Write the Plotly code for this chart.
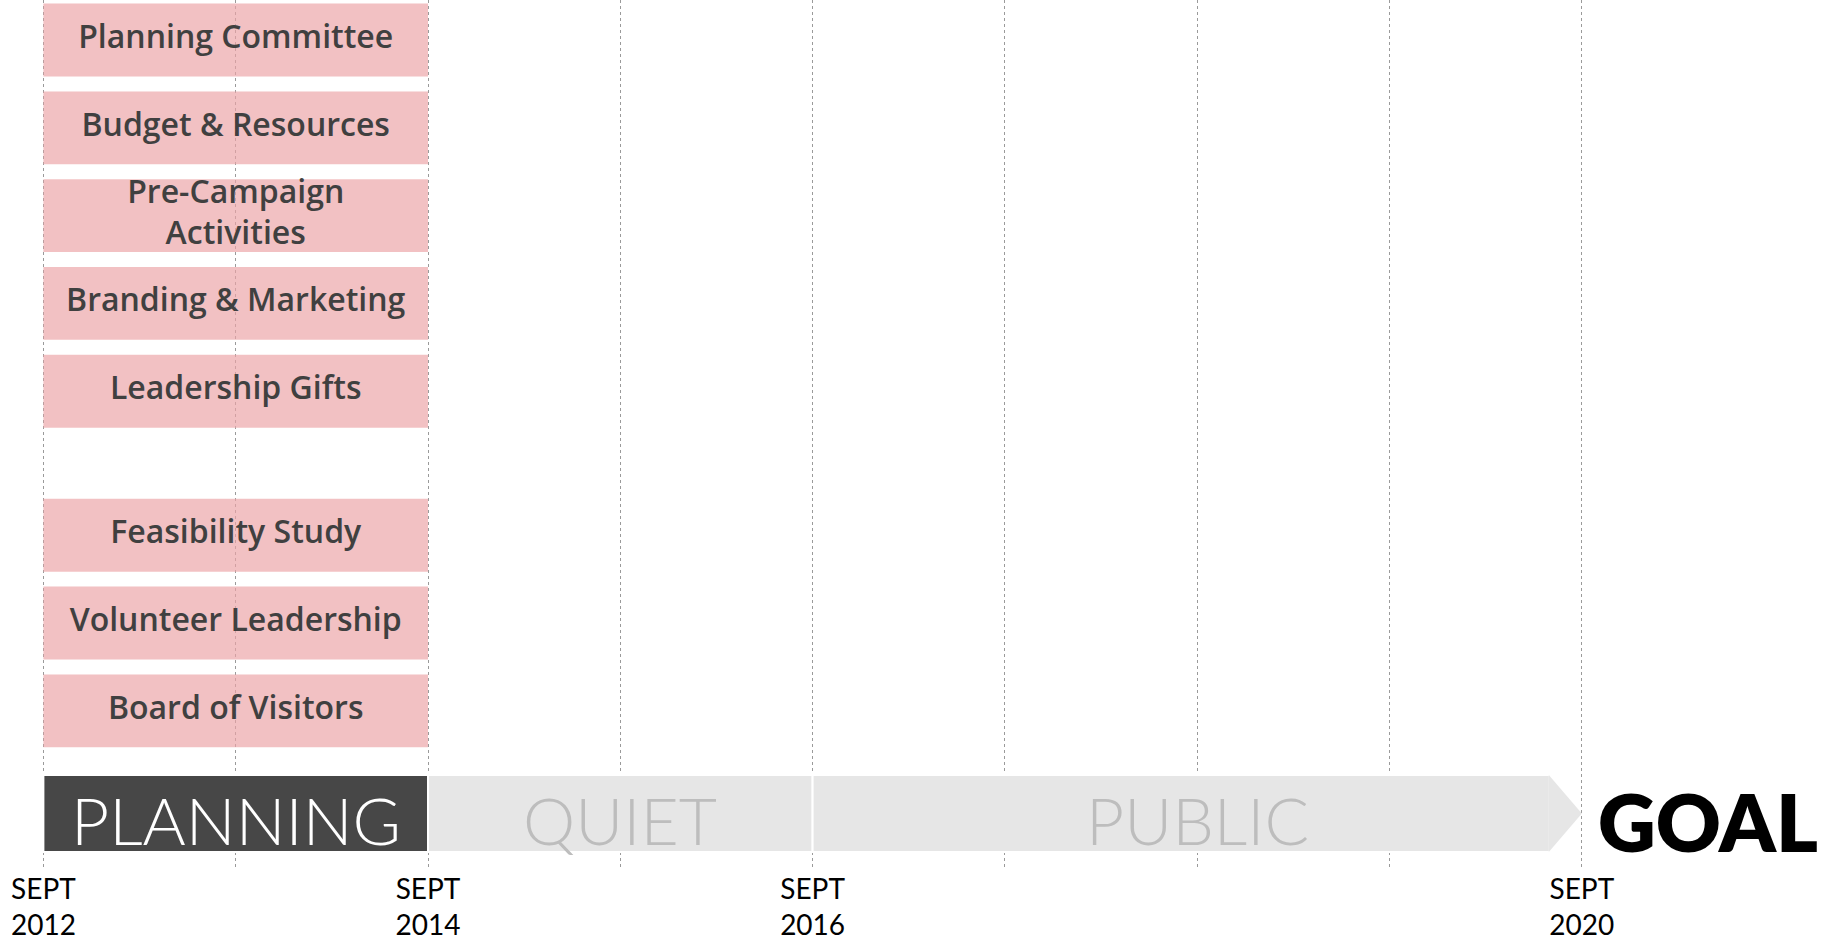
import plotly.graph_objects as go

# ---------------- data ----------------
task_labels = ["Planning Committee", "Budget & Resources", "Pre-Campaign<br>Activities",
               "Branding & Marketing", "Leadership Gifts", "Feasibility Study",
               "Volunteer Leadership", "Board of Visitors"]
task_rows = [0, 1, 2, 3, 4, 5.64, 6.64, 7.64]
task_start = ["2012-09"] * 8
task_end = ["2014-09"] * 8

phase_labels = ["PLANNING", "QUIET", "PUBLIC"]
phase_start = ["2012-09", "2014-09", "2016-09"]
phase_end = ["2014-09", "2016-09", "2020-09"]
phase_fill = ["#474747", "#e6e6e6", "#e6e6e6"]
phase_text_color = ["#ffffff", "#bdbdbd", "#bdbdbd"]
phase_row = 8.81

tick_dates = ["2012-09", "2013-09", "2014-09", "2015-09", "2016-09",
              "2017-09", "2018-09", "2019-09", "2020-09"]
tick_labels = ["SEPT<br>2012", "", "SEPT<br>2014", "", "SEPT<br>2016",
               "", "", "", "SEPT<br>2020"]
goal_label = "GOAL"


def to_year(s):
    y, m = s.split("-")
    return int(y) + (int(m) - 1) / 12.0


# ---------------- figure ----------------
fig = go.Figure()

ts = [to_year(s) for s in task_start]
te = [to_year(s) for s in task_end]
fig.add_trace(go.Bar(
    orientation="h", y=task_rows, base=ts, x=[b - a for a, b in zip(ts, te)],
    width=0.83, marker=dict(color="rgba(236,164,166,0.68)", line=dict(width=0)),
    hoverinfo="skip", showlegend=False))

fig.add_trace(go.Scatter(
    x=[(a + b) / 2 for a, b in zip(ts, te)], y=task_rows, mode="text",
    text=task_labels, textposition="middle center",
    textfont=dict(family="Open Sans", size=32, color="#404040", weight=600),
    hoverinfo="skip", showlegend=False))

# phase band
ps = [to_year(s) for s in phase_start]
pe = [to_year(s) for s in phase_end]
arrow_len = 2 / 12.0
band_w = 0.877
bar_end = [pe[0], pe[1], pe[2] - arrow_len]
fig.add_trace(go.Bar(
    orientation="h", y=[phase_row] * 3, base=ps, x=[b - a for a, b in zip(ps, bar_end)],
    width=band_w, marker=dict(color=phase_fill, line=dict(color="#ffffff", width=2)),
    hoverinfo="skip", showlegend=False))
# arrow head of the last phase
fig.add_trace(go.Scatter(
    x=[pe[2] - arrow_len - 0.005, pe[2], pe[2] - arrow_len - 0.005],
    y=[phase_row - band_w / 2, phase_row, phase_row + band_w / 2],
    mode="lines", fill="toself", fillcolor=phase_fill[2], line=dict(width=0),
    hoverinfo="skip", showlegend=False))

for lbl, a, b, col in zip(phase_labels, ps, pe, phase_text_color):
    fig.add_annotation(
        x=(a + b) / 2, y=phase_row, text=lbl, showarrow=False,
        xanchor="center", yanchor="middle", yshift=-6,
        font=dict(family="Lato", size=66, color=col, weight=300))

fig.add_annotation(
    x=pe[2], y=phase_row, text=goal_label, showarrow=False, xanchor="left",
    xshift=14, yshift=-7, font=dict(family="Lato", size=80, color="#000000", weight=800))

tv = [to_year(s) for s in tick_dates]
fig.update_xaxes(
    range=[2012.441, 2021.952], tickvals=tv, ticktext=tick_labels,
    showgrid=True, griddash="dot", gridcolor="#9a9a9a", gridwidth=1,
    zeroline=False, showline=False, ticks="",
    tickfont=dict(family="Lato", size=28, color="#000000"),
    automargin=False, fixedrange=True)
fig.update_yaxes(range=[9.453, -0.456], showgrid=False, zeroline=False,
                 showticklabels=False, automargin=False, fixedrange=True)

fig.update_layout(
    width=1829, height=944, margin=dict(l=0, r=0, t=0, b=74, pad=0),
    plot_bgcolor="#ffffff", paper_bgcolor="#ffffff", barmode="overlay",
    showlegend=False)

fig.write_html("out.html", config={"displayModeBar": False},
               post_script="document.body.style.margin='0';document.body.style.overflow='hidden';")
